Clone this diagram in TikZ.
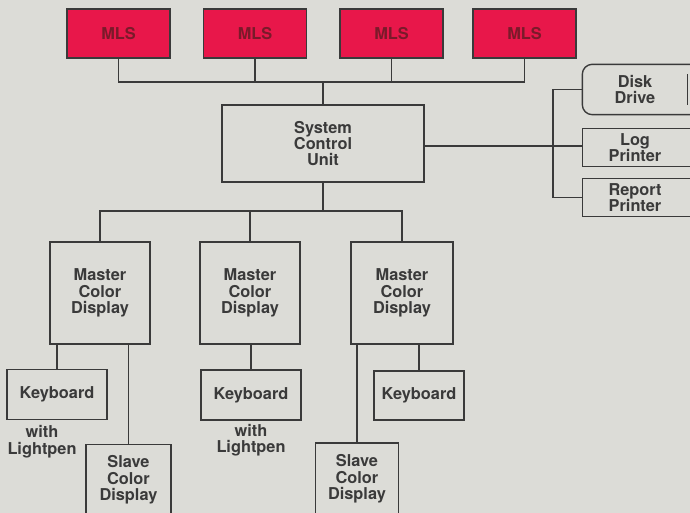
\documentclass[tikz,border=0pt]{standalone}
\usepackage{fontspec}
\setsansfont{TeX Gyre Heros}
\usetikzlibrary{positioning}

\definecolor{paper}{HTML}{DCDCD7}
\definecolor{mlsred}{HTML}{E8174A}
\definecolor{mlsink}{HTML}{7A1A2A}
\definecolor{ink}{HTML}{3A3A3A}

\begin{document}
\begin{tikzpicture}[
        x=0.02cm, y=-0.02cm,
        % Style shared by every labelled box
        unit/.style={
            draw=ink,
            line width=0.8pt,
            text=ink,
            align=center,
            inner sep=0pt,
            font=\sffamily\bfseries\fontsize{9.3}{9.3}\selectfont
        },
        mlsbox/.style={unit, fill=mlsred, text=mlsink, minimum width=2.06cm, minimum height=0.98cm},
        display/.style={unit, minimum width=2cm, minimum height=2.04cm},
        keybox/.style={unit, minimum height=1cm},
        slavebox/.style={unit, minimum width=1.7cm, minimum height=1.42cm},
        outbox/.style={unit, draw=none, minimum width=2.08cm},
        caption/.style={text=ink, align=center, inner sep=0pt,
            font=\sffamily\bfseries\fontsize{9.3}{9.3}\selectfont},
        wire/.style={draw=ink, line width=0.8pt}
    ]

    \useasboundingbox (0,0) rectangle (690,513);
    \clip (0,0) rectangle (690,513);
    \fill[paper] (0,0) rectangle (690,513);

    % ==========================================
    % MLS ROW AND SYSTEM CONTROL UNIT
    % ==========================================

    \node[mlsbox] (mls1) at (118.5,33.5) {MLS};
    \node[mlsbox] (mls2) at (255,33.5) {MLS};
    \node[mlsbox] (mls3) at (391.5,33.5) {MLS};
    \node[mlsbox] (mls4) at (524.5,33.5) {MLS};

    \node[unit, minimum width=4.04cm, minimum height=1.54cm] (scu) at (323,143.5)
        {System\\Control\\Unit};

    % Bus under the MLS boxes
    \coordinate (topbus) at (323,82);
    \foreach \i in {1,...,4}
        \draw[wire] (mls\i.south) |- (topbus);
    \draw[wire] (topbus) -- (scu.north);

    % ==========================================
    % PERIPHERALS ON THE RIGHT
    % ==========================================

    \node[outbox, minimum height=0.98cm] (dd) at (635,89.5) {Disk\\Drive};
    \node[outbox, minimum height=0.74cm] (lp) at (635,147.5) {Log\\Printer};
    \node[outbox, minimum height=0.74cm] (rp) at (635,197.5) {Report\\Printer};

    % Outlines run off the right edge
    \draw[wire, rounded corners=0.2cm] ([xshift=2cm]dd.north east) -- (dd.north west)
        -- (dd.south west) -- ([xshift=2cm]dd.south east);
    \draw[wire] ([yshift=-0.2cm]dd.north east) -- ([yshift=0.2cm]dd.south east);
    \draw[wire] ([xshift=2cm]lp.north east) -- (lp.north west) -- (lp.south west) -- ([xshift=2cm]lp.south east);
    \draw[wire] ([xshift=2cm]rp.north east) -- (rp.north west) -- (rp.south west) -- ([xshift=2cm]rp.south east);

    \coordinate (spine) at (553,146);
    \draw[wire] (scu.east |- spine) -- (spine -| lp.west);
    \draw[wire] (dd.west) -| (spine) |- (rp.west);

    % ==========================================
    % MASTER DISPLAYS
    % ==========================================

    \node[display] (mcd1) at (100,293) {Master\\Color\\Display};
    \node[display] (mcd2) at (250,293) {Master\\Color\\Display};
    \node[display, minimum width=2.04cm] (mcd3) at (402,293) {Master\\Color\\Display};

    \coordinate (lowbus) at (323,211);
    \draw[wire] (scu.south) -- (lowbus);
    \foreach \i in {1,2,3}
        \draw[wire] (mcd\i.north) |- (lowbus);

    % ==========================================
    % KEYBOARDS AND SLAVE DISPLAYS
    % ==========================================

    \node[keybox, minimum width=2cm] (kb1) at (57,394.5) {Keyboard};
    \node[keybox, minimum width=2cm] (kb2) at (251,395) {Keyboard};
    \node[keybox, minimum width=1.8cm, minimum height=0.98cm] (kb3) at (419,395.5) {Keyboard};

    \node[caption, below=0.1cm of kb1, xshift=-0.3cm] (pen1) {with\\Lightpen};
    \node[caption, below=0.06cm of kb2] (pen2) {with\\Lightpen};

    \node[slavebox] (sd1) at (128.5,480) {Slave\\Color\\Display};
    \node[slavebox, minimum width=1.66cm, minimum height=1.44cm] (sd3) at (357,479) {Slave\\Color\\Display};

    \draw[wire] (kb1.north) -- (kb1.north |- mcd1.south);
    \draw[wire] (sd1.north) -- (sd1.north |- mcd1.south);
    \draw[wire] (kb2.north) -- (kb2.north |- mcd2.south);
    \draw[wire] (kb3.north) -- (kb3.north |- mcd3.south);
    \draw[wire] (sd3.north) -- (sd3.north |- mcd3.south);

\end{tikzpicture}
\end{document}
